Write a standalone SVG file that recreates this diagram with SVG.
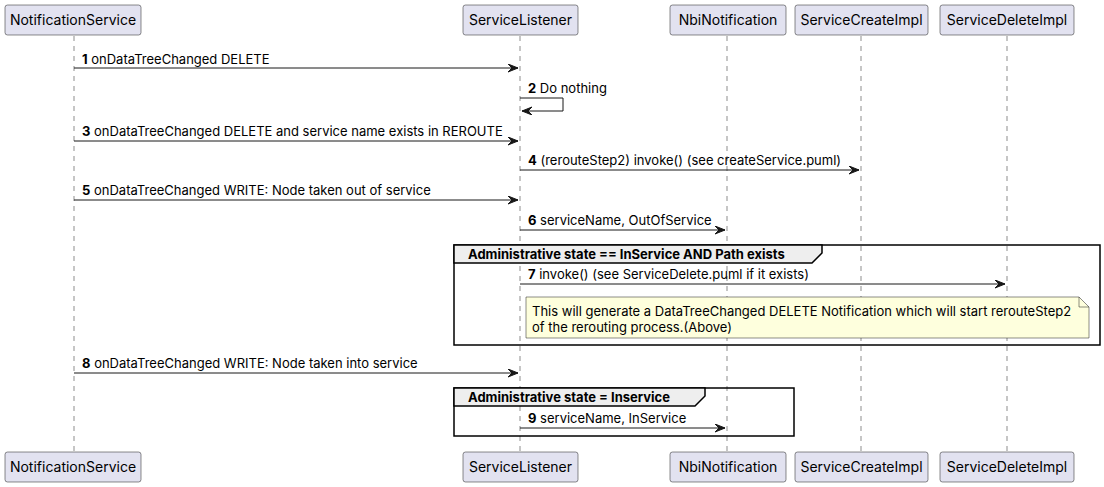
<svg xmlns="http://www.w3.org/2000/svg" width="1104" height="487" viewBox="0 0 1104 487">
<style>
text{font-family:Inter,"Liberation Sans",sans-serif;fill:#000}
.p rect{fill:#E2E2F0;stroke:#181818;stroke-width:0.5}
.p text{font-size:14px;text-anchor:middle}
.life{stroke:#181818;stroke-width:0.5;stroke-dasharray:5,5}
.msg line,.msg polyline{stroke:#181818;stroke-width:1;fill:none}
.msg polygon{fill:#181818;stroke:#181818;stroke-width:1}
.lbl{font-size:13px}
.n{font-weight:bold}
.grp rect{fill:none;stroke:#000;stroke-width:1.5}
.grp polygon{fill:#EEEEEE;stroke:#000;stroke-width:1.5}
.grp text{font-size:13px;font-weight:bold}
.note polygon{fill:#FEFFDD;stroke:#181818;stroke-width:0.5}
.note path{fill:none;stroke:#181818;stroke-width:0.5}
.note text{font-size:13px}
</style>
<defs>
<marker id="ah" markerWidth="12" markerHeight="10" refX="10" refY="4" orient="auto" markerUnits="userSpaceOnUse">
<polygon points="0,0 10,4 0,8 4,4" fill="#181818" stroke="#181818" stroke-width="1"/>
</marker>
</defs>
<g id="lifelines">
<line class="life" x1="74" y1="36" x2="74" y2="452"/>
<line class="life" x1="520" y1="36" x2="520" y2="452"/>
<line class="life" x1="727" y1="36" x2="727" y2="452"/>
<line class="life" x1="861" y1="36" x2="861" y2="452"/>
<line class="life" x1="1007" y1="36" x2="1007" y2="452"/>
</g>
<g id="group1" class="grp">
<rect x="454" y="245" width="646" height="100"/>
<polygon points="454,245 822,245 822,253 812,263 454,263"/>
<text x="468" y="259">Administrative state == InService AND Path exists</text>
</g>
<g id="group2" class="grp">
<rect x="454" y="388" width="340" height="48"/>
<polygon points="454,388 705,388 705,396 695,406 454,406"/>
<text x="468" y="402">Administrative state = Inservice</text>
</g>
<g id="NotificationService" class="p">
<rect x="5" y="5" width="136" height="30" rx="2.5"/>
<text x="73" y="25">NotificationService</text>
<rect x="5" y="452" width="136" height="30" rx="2.5"/>
<text x="73" y="472">NotificationService</text>
</g>
<g id="ServiceListener" class="p">
<rect x="463" y="5" width="115" height="30" rx="2.5"/>
<text x="520.5" y="25">ServiceListener</text>
<rect x="463" y="452" width="115" height="30" rx="2.5"/>
<text x="520.5" y="472">ServiceListener</text>
</g>
<g id="NbiNotification" class="p">
<rect x="670" y="5" width="116" height="30" rx="2.5"/>
<text x="728" y="25">NbiNotification</text>
<rect x="670" y="452" width="116" height="30" rx="2.5"/>
<text x="728" y="472">NbiNotification</text>
</g>
<g id="ServiceCreateImpl" class="p">
<rect x="795" y="5" width="133" height="30" rx="2.5"/>
<text x="861.5" y="25">ServiceCreateImpl</text>
<rect x="795" y="452" width="133" height="30" rx="2.5"/>
<text x="861.5" y="472">ServiceCreateImpl</text>
</g>
<g id="ServiceDeleteImpl" class="p">
<rect x="940" y="5" width="134" height="30" rx="2.5"/>
<text x="1007" y="25">ServiceDeleteImpl</text>
<rect x="940" y="452" width="134" height="30" rx="2.5"/>
<text x="1007" y="472">ServiceDeleteImpl</text>
</g>
<g id="connectors" class="msg">
<line x1="74" y1="68" x2="518" y2="68" marker-end="url(#ah)"/>
<text class="lbl" x="82" y="63.5"><tspan class="n">1</tspan> onDataTreeChanged DELETE</text>
<polyline points="520,98 563,98 563,111 522,111" marker-end="url(#ah)"/>
<text class="lbl" x="528" y="93"><tspan class="n">2</tspan> Do nothing</text>
<line x1="74" y1="141" x2="518" y2="141" marker-end="url(#ah)"/>
<text class="lbl" x="82" y="136"><tspan class="n">3</tspan> onDataTreeChanged DELETE and service name exists in REROUTE</text>
<line x1="520" y1="170" x2="859" y2="170" marker-end="url(#ah)"/>
<text class="lbl" x="528" y="165"><tspan class="n">4</tspan> (rerouteStep2) invoke() (see createService.puml)</text>
<line x1="74" y1="200" x2="518" y2="200" marker-end="url(#ah)"/>
<text class="lbl" x="82" y="195"><tspan class="n">5</tspan> onDataTreeChanged WRITE: Node taken out of service</text>
<line x1="520" y1="230" x2="725" y2="230" marker-end="url(#ah)"/>
<text class="lbl" x="528" y="225"><tspan class="n">6</tspan> serviceName, OutOfService</text>
<line x1="520" y1="284" x2="1005" y2="284" marker-end="url(#ah)"/>
<text class="lbl" x="528" y="279"><tspan class="n">7</tspan> invoke() (see ServiceDelete.puml if it exists)</text>
<line x1="74" y1="373" x2="518" y2="373" marker-end="url(#ah)"/>
<text class="lbl" x="82" y="368"><tspan class="n">8</tspan> onDataTreeChanged WRITE: Node taken into service</text>
<line x1="520" y1="428" x2="725" y2="428" marker-end="url(#ah)"/>
<text class="lbl" x="528" y="422.5"><tspan class="n">9</tspan> serviceName, InService</text>
</g>
<g id="note" class="note">
<polygon points="526,297 1079,297 1089,307 1089,338 526,338"/>
<path d="M1079,297 L1079,307 L1089,307"/>
<text x="532" y="316">This will generate a DataTreeChanged DELETE Notification which will start rerouteStep2</text>
<text x="532" y="332">of the rerouting process.(Above)</text>
</g>
</svg>
